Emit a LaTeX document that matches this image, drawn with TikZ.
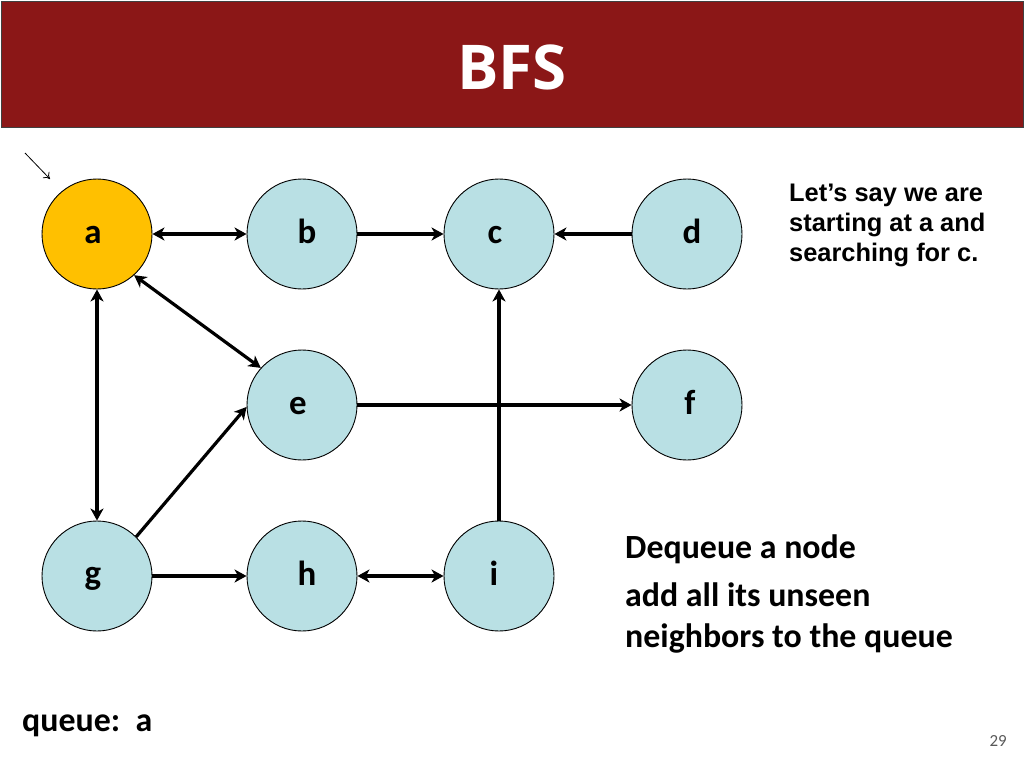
\documentclass[tikz,border=0pt]{standalone}
\usepackage{fontspec}
\setmainfont{Carlito}
\newfontfamily\arialf{Liberation Sans}
\newfontfamily\titlef{Open Sans}
\usetikzlibrary{arrows.meta}
\definecolor{hdr}{RGB}{139,23,23}
\definecolor{nodeblue}{RGB}{185,224,228}
\definecolor{nodegold}{RGB}{255,192,0}
\begin{document}
\begin{tikzpicture}[x=1bp,y=-1bp,
  vert/.style={circle,draw=black,line width=0.9bp,minimum size=110bp,inner sep=0pt,fill=nodeblue},
  lbl/.style={anchor=base,font=\fontsize{35}{38}\selectfont\bfseries,inner sep=0pt},
  edge/.style={line width=3.2bp,-{Stealth[length=12bp,width=13bp,inset=3.5bp]}},
  bedge/.style={line width=3.2bp,{Stealth[length=12bp,width=13bp,inset=3.5bp]}-{Stealth[length=12bp,width=13bp,inset=3.5bp]}},
  rtext/.style={anchor=base west,inner sep=0pt,font=\arialf\fontsize{25.5}{28}\selectfont\bfseries},
  ctext/.style={anchor=base west,inner sep=0pt,font=\fontsize{34}{38}\selectfont\bfseries}]
\useasboundingbox (0,0) rectangle (1024,768);
\fill[white] (0,0) rectangle (1024,768);
% header
\node[draw=black!75,line width=1bp,fill=hdr,minimum width=1022bp,minimum height=126bp,inner sep=0pt,anchor=north west] (hdr) at (1,1) {};
\node[text=white,font=\titlef\fontsize{62}{68}\selectfont\bfseries,inner sep=0pt] (title) at (512,67) {BFS};
% vertices
\node[vert,fill=nodegold] (a) at (97,234) {};
\node[vert] (b) at (302,234) {};
\node[vert] (c) at (499,234) {};
\node[vert] (d) at (687,234) {};
\node[vert] (e) at (302,405) {};
\node[vert] (f) at (687,405) {};
\node[vert] (g) at (97,576) {};
\node[vert] (h) at (302,576) {};
\node[vert] (i) at (499,576) {};
% labels
\node[lbl] (la) at (93,243) {a};
\node[lbl] (lb) at (307,243) {b};
\node[lbl] (lc) at (495,243) {c};
\node[lbl] (ld) at (692,243) {d};
\node[lbl] (le) at (298,414) {e};
\node[lbl] (lf) at (690,414) {f};
\node[lbl] (lg) at (93,584) {g};
\node[lbl] (lh) at (307,585) {h};
\node[lbl] (li) at (494,585) {i};
% edges
\draw[bedge] (a.east) -- (b.west);
\draw[edge] (b.east) -- (c.west);
\draw[edge] (d.west) -- (c.east);
\draw[bedge] (a.-48) -- (e.138);
\draw[bedge] (a.south) -- (g.north);
\draw[edge] (e.east) -- (f.west);
\draw[edge] (g.45) -- (e.182);
\draw[edge] (g.east) -- (h.west);
\draw[bedge] (h.east) -- (i.west);
\draw[edge] (i.north) -- (c.south);
% pointer arrow
\coordinate (p1) at (25,153);
\coordinate (p2) at (50,179);
\draw[line width=0.8bp,-{To[length=6bp,width=9bp]}] (p1) -- (p2);
% texts
\node[rtext] (t1) at (789,201) {Let’s say we are};
\node[rtext] (t2) at (789,231) {starting at a and};
\node[rtext] (t3) at (789,261) {searching for c.};
\node[ctext] (d1) at (625,558) {Dequeue a node};
\node[ctext] (d2) at (625,606) {add all its unseen};
\node[ctext] (d3) at (625,647) {neighbors to the queue};
\node[ctext] (q) at (22,731) {queue:\ \ a};
\node[anchor=base east,inner sep=0pt,text=black!65,font=\fontsize{17}{20}\selectfont] (pg) at (1007,746) {29};
\end{tikzpicture}
\end{document}
